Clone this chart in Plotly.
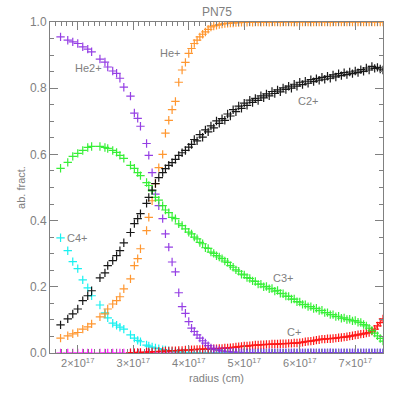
import plotly.graph_objects as go

# radius grid in units of 1e17 cm
radius_e17 = [1.69, 1.82, 1.91, 2.00, 2.09, 2.18, 2.25, 2.40, 2.49, 2.54, 2.63, 2.70, 2.76, 2.83,
              2.95, 3.02, 3.08, 3.13, 3.24, 3.28, 3.34, 3.40, 3.46, 3.53, 3.58, 3.64, 3.70, 3.76,
              3.82, 3.88, 3.94, 4.00,
              4.05, 4.10, 4.15, 4.20, 4.25, 4.30, 4.35, 4.40, 4.45, 4.50, 4.55, 4.60, 4.65, 4.70,
              4.75, 4.80, 4.85, 4.90, 4.95, 5.00, 5.05, 5.10, 5.15, 5.20, 5.25, 5.30, 5.35, 5.40,
              5.45, 5.50, 5.55, 5.60, 5.65, 5.70, 5.75, 5.80, 5.85, 5.90, 5.95, 6.00, 6.05, 6.10,
              6.15, 6.20, 6.25, 6.30, 6.35, 6.40, 6.45, 6.50, 6.55, 6.60, 6.65, 6.70, 6.75, 6.80,
              6.85, 6.90, 6.95, 7.00, 7.05, 7.10, 7.15, 7.20, 7.25, 7.30, 7.35, 7.40, 7.45, 7.50]

he2p = [0.955, 0.945, 0.940, 0.935, 0.925, 0.918, 0.910, 0.888, 0.879, 0.864, 0.852, 0.845, 0.830, 0.803,
        0.776, 0.725, 0.709, 0.685, 0.633, 0.597, 0.545, 0.480, 0.445, 0.406, 0.360, 0.320, 0.275, 0.245,
        0.182, 0.140, 0.120, 0.095,
        0.075, 0.065, 0.055, 0.045, 0.037, 0.030, 0.022, 0.015, 0.012, 0.010, 0.008, 0.006, 0.005, 0.004,
        0.003, 0.003, 0.002, 0.002, 0.001, 0.001, 0.001, 0.0, 0.001, 0.0, 0.0, 0.001, 0.0, 0.0,
        0.001, 0.0, 0.0, 0.0, 0.001, 0.0, 0.0, 0.0, 0.0, 0.001, 0.0, 0.0, 0.0, 0.0,
        0.0, 0.001, 0.0, 0.0, 0.0, 0.0, 0.0, 0.0, 0.001, 0.0, 0.0, 0.0, 0.0, 0.0,
        0.0, 0.0, 0.0, 0.0, 0.0, 0.0, 0.0, 0.0, 0.0, 0.0, 0.0, 0.0, 0.0, 0.0]

hep = [0.045, 0.052, 0.058, 0.062, 0.072, 0.079, 0.088, 0.109, 0.118, 0.133, 0.148, 0.158, 0.170, 0.194,
       0.224, 0.264, 0.285, 0.315, 0.370, 0.410, 0.460, 0.512, 0.560, 0.600, 0.664, 0.703, 0.735, 0.760,
       0.818, 0.855, 0.878, 0.905,
       0.920, 0.935, 0.945, 0.955, 0.963, 0.970, 0.978, 0.985, 0.988, 0.990, 0.992, 0.994, 0.995, 0.996,
       0.997, 0.997, 0.998, 0.998, 0.999, 0.999, 0.999, 1.0, 0.999, 1.0, 1.0, 0.999, 1.0, 1.0,
       0.999, 1.0, 1.0, 1.0, 0.999, 1.0, 1.0, 1.0, 1.0, 0.999, 1.0, 1.0, 1.0, 1.0,
       1.0, 0.999, 1.0, 1.0, 1.0, 1.0, 1.0, 1.0, 0.999, 1.0, 1.0, 1.0, 1.0, 1.0,
       1.0, 1.0, 1.0, 1.0, 1.0, 1.0, 1.0, 1.0, 1.0, 1.0, 1.0, 1.0, 1.0, 1.0]

c2p = [0.085, 0.103, 0.118, 0.133, 0.158, 0.173, 0.188, 0.227, 0.242, 0.264, 0.279, 0.294, 0.309, 0.333,
       0.364, 0.391, 0.406, 0.421, 0.452, 0.470, 0.492, 0.512, 0.530, 0.545, 0.557, 0.567, 0.575, 0.585,
       0.597, 0.605, 0.612, 0.622,
       0.630, 0.645, 0.641, 0.660, 0.652, 0.674, 0.668, 0.686, 0.680, 0.701, 0.694, 0.708, 0.703, 0.722,
       0.716, 0.735, 0.729, 0.746, 0.739, 0.755, 0.748, 0.764, 0.757, 0.769, 0.763, 0.777, 0.771, 0.783,
       0.777, 0.790, 0.784, 0.795, 0.789, 0.801, 0.796, 0.806, 0.800, 0.812, 0.806, 0.818, 0.811, 0.821,
       0.815, 0.826, 0.820, 0.829, 0.824, 0.833, 0.827, 0.836, 0.830, 0.840, 0.834, 0.844, 0.838, 0.847,
       0.841, 0.849, 0.844, 0.852, 0.847, 0.856, 0.851, 0.861, 0.855, 0.866, 0.860, 0.863, 0.858, 0.855]

c3p = [0.558, 0.576, 0.594, 0.603, 0.612, 0.621, 0.624, 0.624, 0.621, 0.618, 0.612, 0.606, 0.597, 0.588,
       0.567, 0.558, 0.545, 0.536, 0.515, 0.506, 0.490, 0.470, 0.462, 0.445, 0.432, 0.424, 0.410, 0.406,
       0.390, 0.385, 0.375, 0.365,
       0.360, 0.350, 0.345, 0.334, 0.330, 0.318, 0.316, 0.305, 0.301, 0.294, 0.290, 0.285, 0.278, 0.274,
       0.264, 0.259, 0.251, 0.247, 0.238, 0.236, 0.228, 0.225, 0.218, 0.216, 0.208, 0.208, 0.200, 0.201,
       0.194, 0.195, 0.187, 0.189, 0.180, 0.179, 0.172, 0.171, 0.163, 0.163, 0.155, 0.154, 0.147, 0.146,
       0.140, 0.140, 0.134, 0.135, 0.128, 0.129, 0.122, 0.122, 0.116, 0.116, 0.110, 0.111, 0.105, 0.106,
       0.101, 0.102, 0.097, 0.098, 0.093, 0.092, 0.086, 0.082, 0.075, 0.068, 0.060, 0.052, 0.044, 0.036]

c4p = [0.348, 0.309, 0.276, 0.255, 0.221, 0.197, 0.173, 0.145, 0.121, 0.106, 0.090, 0.084, 0.078, 0.072,
       0.055, 0.045, 0.038, 0.034, 0.024, 0.021, 0.018, 0.015, 0.013, 0.010, 0.009, 0.007, 0.005, 0.004,
       0.003, 0.002, 0.002, 0.001,
       0.001, 0.001, 0.001, 0.0, 0.0, 0.0, 0.0, 0.0, 0.0, 0.0, 0.0, 0.0, 0.0, 0.0,
       0.0, 0.0, 0.0, 0.0, 0.0, 0.0, 0.0, 0.0, 0.0, 0.0, 0.0, 0.0, 0.0, 0.0,
       0.0, 0.0, 0.0, 0.0, 0.0, 0.0, 0.0, 0.0, 0.0, 0.0, 0.0, 0.0, 0.0, 0.0,
       0.0, 0.0, 0.0, 0.0, 0.0, 0.0, 0.0, 0.0, 0.0, 0.0, 0.0, 0.0, 0.0, 0.0,
       0.0, 0.0, 0.0, 0.0, 0.0, 0.0, 0.0, 0.0, 0.0, 0.0, 0.0, 0.0, 0.0, 0.0]

c1p = [None, None, None, None, None, None, None, None, None, None, None, None, None, None,
       0.001, 0.001, 0.002, 0.002, 0.003, 0.003, 0.004, 0.004, 0.005, 0.005, 0.006, 0.006, 0.007, 0.007,
       0.008, 0.008, 0.009, 0.009,
       0.010, 0.010, 0.011, 0.011, 0.012, 0.012, 0.012, 0.012, 0.013, 0.013, 0.014, 0.014, 0.015, 0.015,
       0.016, 0.017, 0.018, 0.019, 0.020, 0.021, 0.021, 0.022, 0.023, 0.024, 0.024, 0.025, 0.025, 0.026,
       0.026, 0.027, 0.027, 0.027, 0.028, 0.028, 0.028, 0.029, 0.029, 0.030, 0.030, 0.031, 0.032, 0.034,
       0.035, 0.036, 0.037, 0.039, 0.040, 0.042, 0.042, 0.043, 0.043, 0.044, 0.045, 0.046, 0.047, 0.048,
       0.049, 0.051, 0.052, 0.054, 0.055, 0.057, 0.058, 0.060, 0.062, 0.066, 0.072, 0.082, 0.092, 0.103]

c5p = [0.0, 0.0, 0.0, 0.0, 0.0, 0.0, 0.0, 0.0, 0.0, 0.0, 0.0, 0.0, 0.0, 0.0,
       0.0, 0.0, 0.0, 0.0, 0.0, 0.0, 0.0, 0.0, 0.0, 0.0, 0.0, 0.0, 0.0, 0.0,
       0.0, 0.0, 0.0, 0.0,
       0.0, 0.0, 0.0, 0.0, 0.0, 0.0, 0.0, 0.0, 0.0, 0.0, 0.0, 0.0, 0.0, 0.0,
       0.0, 0.0, 0.0, 0.0, 0.0, 0.0, 0.0, 0.0, 0.0, 0.0, 0.0, 0.0, 0.0, 0.0,
       0.0, 0.0, 0.0, 0.0, 0.0, 0.0, 0.0, 0.0, 0.0, 0.0, 0.0, 0.0, 0.0, 0.0,
       0.0, 0.0, 0.0, 0.0, 0.0, 0.0, 0.0, 0.0, 0.0, 0.0, 0.0, 0.0, 0.0, 0.0,
       0.0, 0.0, 0.0, 0.0, 0.0, 0.0, 0.0, 0.0, 0.0, 0.0, 0.0, 0.0, 0.0, 0.0]

tick_vals_e17 = [2, 3, 4, 5, 6, 7]
tick_text = ["2×10<sup>17</sup>", "3×10<sup>17</sup>", "4×10<sup>17</sup>",
             "5×10<sup>17</sup>", "6×10<sup>17</sup>", "7×10<sup>17</sup>"]

labels = ["He2+", "He+", "C2+", "C3+", "C+", "C4+"]
label_r = [2.20, 3.67, 6.15, 5.70, 5.90, 2.00]
label_f = [0.86, 0.905, 0.76, 0.228, 0.064, 0.348]

radius = [r * 1e17 for r in radius_e17]

GRAY = "#808080"
FONT = "Liberation Sans"

fig = go.Figure()

def add(y, color, line=False):
    fig.add_trace(go.Scatter(
        x=radius, y=y,
        mode="lines+markers" if line else "markers",
        line=dict(color=color, width=1),
        marker=dict(symbol="cross-thin", size=6, line=dict(color=color, width=1.2)),
        opacity=0.9, showlegend=False, hoverinfo="skip", connectgaps=False))

add(c5p, "#ff00ff")
add(c4p, "#00f0f0")
add(c1p, "#ff0000", line=True)
add(he2p, "#8a2be2")
add(hep, "#ff8c1a")
add(c3p, "#22ee22")
add(c2p, "#000000")

for t, r, f in zip(labels, label_r, label_f):
    fig.add_annotation(x=r * 1e17, y=f, text=t, showarrow=False,
                       font=dict(family=FONT, size=11, color=GRAY))

fig.update_layout(
    width=398, height=398,
    margin=dict(l=50, r=15, t=22, b=45),
    paper_bgcolor="white", plot_bgcolor="white",
    title=dict(text="PN75", x=0.545, xanchor="center", y=0.971, yanchor="middle",
               font=dict(family=FONT, size=12, color=GRAY)),
    font=dict(family=FONT, size=11, color=GRAY),
)
fig.update_xaxes(
    range=[1.5e17, 7.5e17], tickvals=[v * 1e17 for v in tick_vals_e17], ticktext=tick_text,
    showgrid=False, zeroline=False, showline=True, linecolor=GRAY, linewidth=1, mirror="ticks",
    ticks="inside", ticklen=8, tickcolor=GRAY,
    minor=dict(dtick=1e16, ticks="inside", ticklen=4, tickcolor=GRAY, showgrid=False),
    tickfont=dict(family=FONT, size=11, color=GRAY),
    title=dict(text="radius (cm)", font=dict(family=FONT, size=11, color=GRAY), standoff=6),
)
fig.update_yaxes(
    range=[0, 1.0], tickvals=[0, 0.2, 0.4, 0.6, 0.8, 1.0],
    ticktext=["0.0", "0.2", "0.4", "0.6", "0.8", "1.0"],
    showgrid=False, zeroline=False, showline=True, linecolor=GRAY, linewidth=1, mirror="ticks",
    ticks="inside", ticklen=8, tickcolor=GRAY,
    minor=dict(dtick=0.05, ticks="inside", ticklen=4, tickcolor=GRAY, showgrid=False),
    tickfont=dict(family=FONT, size=12, color=GRAY),
    title=dict(text="ab. fract.", font=dict(family=FONT, size=11, color=GRAY), standoff=2),
)

# remove the browser's default 8px page margin so the 398x398 figure fills the window
fig.write_html("out.html", config={"displayModeBar": False, "staticPlot": True},
               post_script="document.body.style.margin='0';")
